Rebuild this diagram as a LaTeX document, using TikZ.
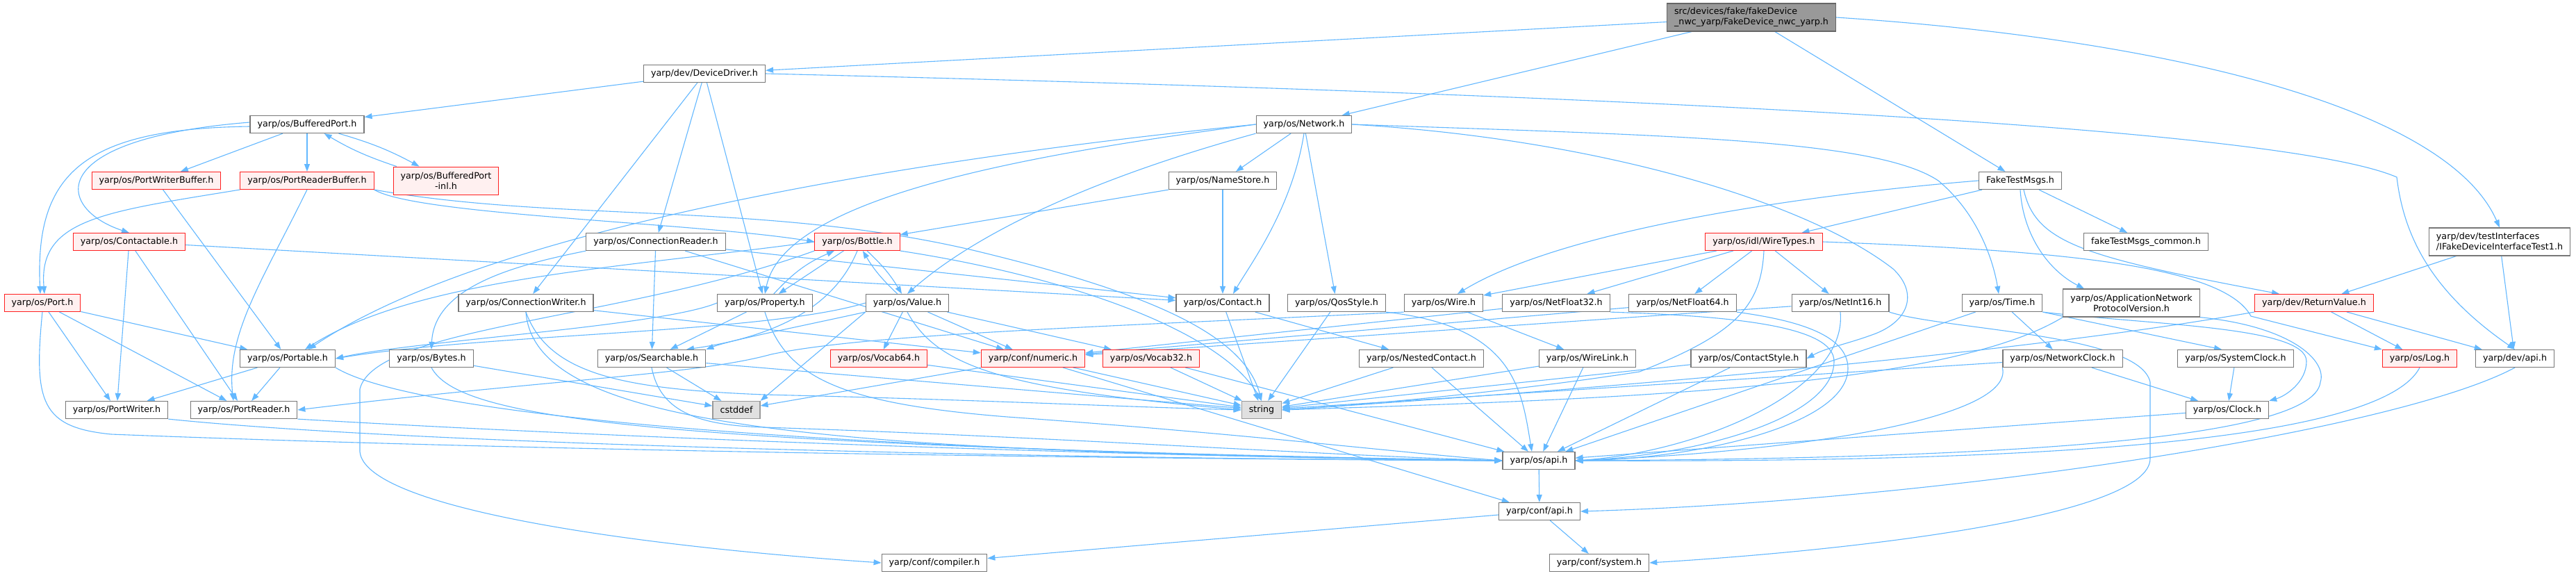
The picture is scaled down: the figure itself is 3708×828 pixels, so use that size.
\documentclass[tikz,border=0pt]{standalone}
\usepackage{fontspec}
\setmainfont{DejaVu Sans}
\usetikzlibrary{arrows.meta,positioning}
\definecolor{edgeblue}{HTML}{63B8FF}
\definecolor{boxline}{HTML}{777777}
\definecolor{leafline}{HTML}{999999}
\definecolor{leaffill}{HTML}{E0E0E0}
\definecolor{rootfill}{HTML}{999999}
\definecolor{rootline}{HTML}{666666}
\definecolor{cutfill}{HTML}{FFF0F0}
\definecolor{cutline}{HTML}{FF2020}
\pgfdeclarelayer{back}
\pgfsetlayers{back,main}
\tikzset{
  hdr/.style={draw=boxline, fill=white, line width=1.2pt, rectangle, inner xsep=10.5pt, inner ysep=3pt,
    minimum height=25pt, font=\fontsize{12.7}{15}\selectfont},
  cut/.style={hdr, draw=cutline, fill=cutfill, line width=1pt},
  leaf/.style={hdr, draw=leafline, fill=leaffill},
  twoline/.style={align=center, inner ysep=4pt, minimum height=40pt},
  root/.style={hdr, draw=rootline, fill=rootfill, align=left, inner ysep=4pt, minimum height=40pt},
  edge/.style={draw=edgeblue, line width=1.1pt, -{Triangle[length=11pt,width=8pt]}},
}
\begin{document}
\begin{tikzpicture}[x=1pt,y=-1pt]
\useasboundingbox (0,0) rectangle (3708,828);
% rank 0 - 2
\node[root] (main) at (2521,25) {src/devices/fake/fakeDevice\\\_nwc\_yarp/FakeDevice\_nwc\_yarp.h};
\node[hdr] (devdriver) at (1014,106) {yarp/dev/DeviceDriver.h};
\node[hdr] (network) at (1877,179) {yarp/os/Network.h};
\node[hdr] (bufport) at (442,179) {yarp/os/BufferedPort.h};
% rank 3
\node[cut] (portwbuf) at (225,260) {yarp/os/PortWriterBuffer.h};
\node[cut] (portrbuf) at (442,260) {yarp/os/PortReaderBuffer.h};
\node[cut, twoline] (bufportinl) at (642,260) {yarp/os/BufferedPort\\-inl.h};
\node[hdr] (namestore) at (1760,260) {yarp/os/NameStore.h};
\node[hdr] (faketest) at (2908,260) {FakeTestMsgs.h};
% rank 4
\node[cut] (contactable) at (186,348) {yarp/os/Contactable.h};
\node[hdr] (connreader) at (944,348) {yarp/os/ConnectionReader.h};
\node[cut] (bottle) at (1234,348) {yarp/os/Bottle.h};
\node[cut] (wiretypes) at (2539,348) {yarp/os/idl/WireTypes.h};
\node[hdr] (fakecommon) at (3089,348) {fakeTestMsgs\_common.h};
\node[hdr, align=left, inner ysep=4pt, minimum height=40pt] (ifake) at (3598,348) {yarp/dev/testInterfaces\\/IFakeDeviceInterfaceTest1.h};
% rank 5
\node[cut] (port) at (61,436) {yarp/os/Port.h};
\node[hdr] (connwriter) at (757,436) {yarp/os/ConnectionWriter.h};
\node[hdr] (property) at (1101,436) {yarp/os/Property.h};
\node[hdr] (value) at (1306,436) {yarp/os/Value.h};
\node[hdr] (contact) at (1760,436) {yarp/os/Contact.h};
\node[hdr] (qosstyle) at (1924,436) {yarp/os/QosStyle.h};
\node[hdr] (wire) at (2078,436) {yarp/os/Wire.h};
\node[hdr] (nf32) at (2240,436) {yarp/os/NetFloat32.h};
\node[hdr] (nf64) at (2422,436) {yarp/os/NetFloat64.h};
\node[hdr] (ni16) at (2649,436) {yarp/os/NetInt16.h};
\node[hdr] (time) at (2882,436) {yarp/os/Time.h};
\node[hdr, twoline] (anpv) at (3068,436) {yarp/os/ApplicationNetwork\\ProtocolVersion.h};
\node[cut] (retval) at (3331,436) {yarp/dev/ReturnValue.h};
% rank 6
\node[hdr] (portable) at (414,516) {yarp/os/Portable.h};
\node[hdr] (bytes) at (621,516) {yarp/os/Bytes.h};
\node[hdr] (searchable) at (938,516) {yarp/os/Searchable.h};
\node[cut] (vocab64) at (1265,516) {yarp/os/Vocab64.h};
\node[cut] (numeric) at (1487,516) {yarp/conf/numeric.h};
\node[cut] (vocab32) at (1657,516) {yarp/os/Vocab32.h};
\node[hdr] (nested) at (2046,516) {yarp/os/NestedContact.h};
\node[hdr] (wirelink) at (2285,516) {yarp/os/WireLink.h};
\node[hdr] (contactstyle) at (2517,516) {yarp/os/ContactStyle.h};
\node[hdr] (netclock) at (2969,516) {yarp/os/NetworkClock.h};
\node[hdr] (sysclock) at (3218,516) {yarp/os/SystemClock.h};
\node[cut] (log) at (3483,516) {yarp/os/Log.h};
\node[hdr] (devapi) at (3620,516) {yarp/dev/api.h};
% rank 7 - 9
\node[hdr] (portwriter) at (168,590) {yarp/os/PortWriter.h};
\node[hdr] (portreader) at (351,590) {yarp/os/PortReader.h};
\node[leaf] (cstddef) at (1060,590) {cstddef};
\node[leaf] (stringh) at (1816,590) {string};
\node[hdr] (clock) at (3206,590) {yarp/os/Clock.h};
\node[hdr] (osapi) at (2215,663) {yarp/os/api.h};
\node[hdr] (confapi) at (2216,736) {yarp/conf/api.h};
\node[hdr] (compiler) at (1345,810) {yarp/conf/compiler.h};
\node[hdr] (system) at (2302,810) {yarp/conf/system.h};

\begin{pgfonlayer}{back}
\fill[white] (0,0) rectangle (3708,828);
% straight includes
\foreach \a/\b in {main/devdriver, main/network, main/faketest,
  devdriver/bufport, devdriver/connwriter, devdriver/connreader, devdriver/property,
  bufport/portwbuf, bufport/portrbuf, portwbuf/portable,
  contactable/portwriter, contactable/portreader, contactable/contact,
  port/portable, port/portwriter, port/portreader,
  portable/portwriter, portable/portreader, bytes/cstddef,
  connreader/searchable, connreader/numeric, connreader/contact, connwriter/numeric,
  network/namestore, network/qosstyle, namestore/bottle, namestore/contact,
  bottle/property, property/searchable,
  value/vocab64, value/numeric, value/vocab32,
  contact/nested, contact/stringh, searchable/cstddef, searchable/stringh,
  vocab64/stringh, numeric/stringh, vocab32/stringh, numeric/cstddef, numeric/confapi,
  qosstyle/stringh, nested/stringh, wirelink/stringh, contactstyle/stringh,
  nested/osapi, wirelink/osapi, contactstyle/osapi, wire/wirelink,
  faketest/wiretypes, faketest/fakecommon,
  wiretypes/wire, wiretypes/nf32, wiretypes/nf64, wiretypes/ni16,
  nf32/numeric, nf64/numeric, ni16/numeric,
  ifake/retval, ifake/devapi, retval/log, retval/devapi,
  time/netclock, time/osapi, netclock/clock, sysclock/clock, netclock/stringh,
  clock/osapi, osapi/confapi, confapi/system, confapi/compiler, vocab32/osapi}
  \draw[edge] (\a) -- (\b);
% cycles
\draw[edge] (bufport) to[bend left=6] (bufportinl);
\draw[edge] (bufportinl) to[bend left=6] (bufport);
\draw[edge] (property) to[bend left=12] (bottle);
\draw[edge] (bottle) to[bend left=8] (value);
\draw[edge] (value) to[bend left=8] (bottle);
% long includes
\draw[edge] (main.east) .. controls (3100,55) and (3520,150) .. (ifake.north);
\draw[edge] (devdriver.east) .. controls (2500,140) and (3300,190) .. (3450,255) .. controls (3460,340) and (3500,420) .. (devapi.north);
\draw[edge] ([yshift=3pt]bufport.west) .. controls (60,200) and (80,300) .. (contactable.north);
\draw[edge] ([yshift=-3pt]bufport.west) .. controls (120,185) and (50,250) .. ([xshift=-3pt]port.north);
\draw[edge] (portrbuf.south west) .. controls (150,305) and (55,315) .. ([xshift=3pt]port.north);
\draw[edge] (portrbuf.south) .. controls (380,400) and (325,480) .. ([xshift=-15pt]portreader.north);
\draw[edge] (portrbuf.south east) .. controls (600,310) and (1000,320) .. (bottle.west);
\draw[edge] (portrbuf.south east) .. controls (800,320) and (1100,290) .. (1400,360) .. controls (1650,420) and (1790,480) .. (stringh.north);
\draw[edge] (port.south) .. controls (48,580) and (60,615) .. (160,625) .. controls (800,650) and (1600,660) .. (osapi.west);
\draw[edge] (portable.south east) .. controls (600,600) and (1200,650) .. (osapi.west);
\draw[edge] (portwriter.south east) .. controls (600,640) and (1500,660) .. (osapi.west);
\draw[edge] (portreader.south east) .. controls (800,625) and (1500,655) .. (osapi.west);
\draw[edge] (bytes.south) .. controls (660,600) and (900,640) .. (osapi.west);
\draw[edge] (connwriter.south) .. controls (770,620) and (1200,650) .. (osapi.west);
\draw[edge] (connwriter.south) .. controls (790,540) and (900,560) .. (1100,568) .. controls (1400,575) and (1600,585) .. (stringh.west);
\draw[edge] (connreader.south west) .. controls (750,380) and (625,410) .. (bytes.north);
\draw[edge] (searchable.south) .. controls (950,590) and (1000,612) .. (1100,615) .. controls (1500,628) and (1900,655) .. (osapi.west);
\draw[edge] (property.south) .. controls (1130,540) and (1200,580) .. (1450,600) .. controls (1800,625) and (2000,650) .. (osapi.west);
\draw[edge] (property.west) .. controls (950,470) and (600,490) .. (portable.east);
\draw[edge] (value.west) .. controls (1100,480) and (700,480) .. (portable.east);
\draw[edge] (value.south west) .. controls (1150,470) and (1050,490) .. (searchable.north east);
\draw[edge] (value.south west) -- (cstddef.north east);
\draw[edge] (value.south) .. controls (1350,530) and (1450,560) .. (stringh.west);
\draw[edge] (bottle.west) .. controls (900,385) and (600,400) .. ([xshift=25pt]portable.north);
\draw[edge] (bottle.south) .. controls (1210,420) and (1150,480) .. ([xshift=50pt]searchable.north);
\draw[edge] (bottle.south east) .. controls (1550,400) and (1760,480) .. (stringh.north);
\draw[edge] (bottle.south west) .. controls (900,460) and (540,470) .. (518,560) -- (518,650) .. controls (525,730) and (900,785) .. (compiler.west);
\draw[edge] (network.west) .. controls (1300,230) and (700,330) .. ([xshift=30pt]portable.north);
\draw[edge] (network.west) .. controls (1500,220) and (1130,280) .. (property.north);
\draw[edge] (network.south west) .. controls (1560,260) and (1400,340) .. (value.north);
\draw[edge] (network.south) .. controls (1860,300) and (1800,380) .. ([xshift=15pt]contact.north);
\draw[edge] (network.east) .. controls (2400,195) and (2700,200) .. (2790,260) .. controls (2850,310) and (2870,380) .. ([xshift=-5pt]time.north);
\draw[edge] (network.east) .. controls (2300,200) and (2600,290) .. (2725,387) .. controls (2760,420) and (2750,460) .. (2700,480) .. controls (2660,495) and (2630,500) .. (contactstyle.east);
\draw[edge] (faketest.west) .. controls (2600,280) and (2250,330) .. ([xshift=20pt]wire.north);
\draw[edge] (faketest.south) .. controls (2912,340) and (2950,390) .. ([xshift=-68pt]anpv.north);
\draw[edge] ([xshift=5pt]faketest.south) .. controls (2930,350) and (3000,370) .. ([xshift=-50pt]retval.north);
\draw[edge] (wiretypes.south) .. controls (2535,440) and (2500,480) .. (2360,535) .. controls (2200,560) and (2000,580) .. (stringh.east);
\draw[edge] (wiretypes.east) .. controls (2950,360) and (3200,380) .. (3240,455) -- (log.north west);
\draw[edge] (wire.south west) .. controls (1600,470) and (1250,480) .. (1110,510) .. controls (1000,540) and (800,545) .. (portreader.east);
\draw[edge] (qosstyle.south east) .. controls (2180,470) and (2190,560) .. ([xshift=-10pt]osapi.north);
\draw[edge] (retval.south west) .. controls (2900,510) and (2300,560) .. (stringh.east);
\draw[edge] (anpv.south west) .. controls (2800,560) and (2300,575) .. (stringh.east);
\draw[edge] (anpv.south east) .. controls (3300,470) and (3350,520) .. (3340,550) .. controls (3330,640) and (2800,660) .. (osapi.east);
\draw[edge] (netclock.south west) .. controls (2900,600) and (2600,650) .. (osapi.east);
\draw[edge] (log.south) .. controls (3420,650) and (2800,665) .. (osapi.east);
\draw[edge] (ni16.south) .. controls (2660,560) and (2450,650) .. (osapi.east);
\draw[edge] (nf32.south east) .. controls (2500,455) and (2640,470) .. (2640,520) .. controls (2640,600) and (2450,655) .. (osapi.east);
\draw[edge] (nf64.south east) .. controls (2580,460) and (2660,480) .. (2660,530) .. controls (2660,610) and (2450,660) .. (osapi.east);
\draw[edge] (ni16.south east) .. controls (2800,475) and (3080,480) .. (3095,550) -- (3095,660) .. controls (3095,740) and (2700,790) .. (system.east);
\draw[edge] (time.south east) .. controls (3100,468) and (3320,470) .. (3320,520) .. controls (3320,550) and (3290,570) .. (clock.north east);
\draw[edge] (time.south east) -- ([xshift=-20pt]sysclock.north);
\draw[edge] (devapi.south) .. controls (3450,620) and (2800,720) .. (confapi.east);
\end{pgfonlayer}
\end{tikzpicture}
\end{document}
